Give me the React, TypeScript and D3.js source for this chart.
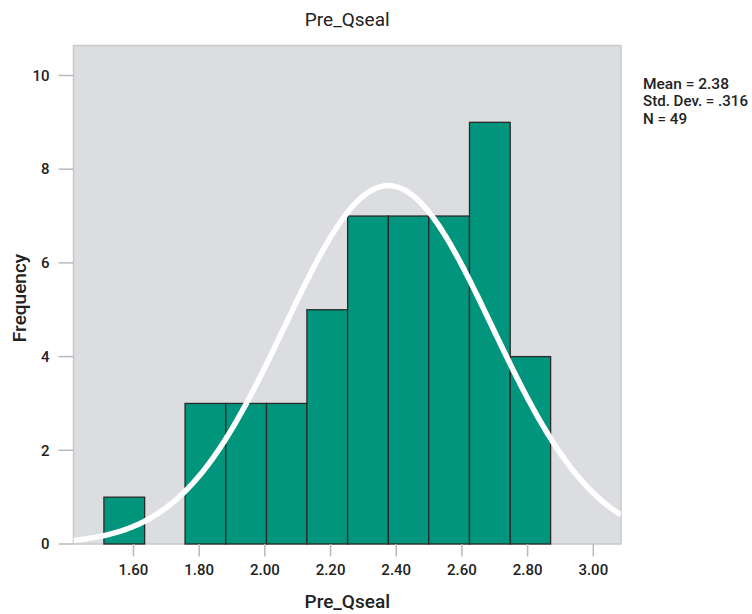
import React from "react";
import * as d3 from "d3";

// Histogram of Pre_Qseal with a fitted normal curve
const binEdges = [1.51, 1.634, 1.757, 1.881, 2.005, 2.128, 2.252, 2.376, 2.499, 2.623, 2.747, 2.87];
const frequencies = [1, 0, 3, 3, 3, 5, 7, 7, 7, 9, 4];
const xTicks = [1.6, 1.8, 2.0, 2.2, 2.4, 2.6, 2.8, 3.0];
const yTicks = [0, 2, 4, 6, 8, 10];
const mean = 2.376;
const sd = 0.316;
const n = 49;
const statsLines = ["Mean = 2.38", "Std. Dev. = .316", "N = 49"];

const W = 752;
const H = 614;
const left = 73.5;
const right = 621;
const top = 45.5;
const bottom = 544;
const font = "Roboto, 'Noto Sans', sans-serif";
const statsWidths = [86, 105, 44];

export default function App() {
  const x = d3.scaleLinear().domain([1.4174, 3.0843]).range([left, right]);
  const y = d3.scaleLinear().domain([0, 10.64]).range([bottom, top]);

  const binWidth = (binEdges[binEdges.length - 1] - binEdges[0]) / frequencies.length;
  const normal = (v: number) =>
    (n * binWidth) / (sd * Math.sqrt(2 * Math.PI)) * Math.exp(-0.5 * ((v - mean) / sd) ** 2);
  const curvePts = d3.range(0, 301).map((i) => {
    const v = 1.4174 + (i / 300) * (3.0843 - 1.4174);
    return [v, normal(v)] as [number, number];
  });
  const line = d3
    .line<[number, number]>()
    .x((d) => x(d[0]))
    .y((d) => y(d[1]))
    .curve(d3.curveBasis);

  return (
    <svg width={W} height={H} style={{ position: "absolute", left: 0, top: 0, background: "#fff" }}>
      <defs>
        <clipPath id="plotClip">
          <rect x={left} y={top} width={right - left} height={bottom - top} />
        </clipPath>
      </defs>
      <text x={(left + right) / 2} y={25.5} textAnchor="middle" fontFamily={font} fontSize={19} fill="#222">
        Pre_Qseal
      </text>
      <rect x={left} y={top} width={right - left} height={bottom - top} fill="#dcdde0" stroke="#c8c9cb" strokeWidth={1.5} />
      <g>
        {frequencies.map((f, i) =>
          f > 0 ? (
            <rect
              key={i}
              x={x(binEdges[i])}
              y={y(f)}
              width={x(binEdges[i + 1]) - x(binEdges[i])}
              height={y(0) - y(f)}
              fill="#00957c"
              stroke="#2a2a2a"
              strokeWidth={1.3}
            />
          ) : null
        )}
      </g>
      <path d={line(curvePts) || ""} fill="none" stroke="#ffffff" strokeWidth={5.5} clipPath="url(#plotClip)" />
      {yTicks.map((t) => (
        <g key={t}>
          <line x1={left - 15} x2={left} y1={y(t)} y2={y(t)} stroke="#b8b9bc" strokeWidth={1.5} />
          <text x={left - 24} y={y(t)} dy="0.35em" textAnchor="end" fontFamily={font} fontSize={15} fontWeight={500} fill="#222">
            {t}
          </text>
        </g>
      ))}
      {xTicks.map((t) => (
        <g key={t}>
          <line x1={x(t)} x2={x(t)} y1={bottom} y2={bottom + 12.5} stroke="#b8b9bc" strokeWidth={1.5} />
          <text x={x(t)} y={bottom + 31} textAnchor="middle" fontFamily={font} fontSize={15} fontWeight={500} fill="#222">
            {t.toFixed(2)}
          </text>
        </g>
      ))}
      <text x={(left + right) / 2} y={608} textAnchor="middle" fontFamily={font} fontSize={19} fontWeight={500} fill="#222">
        Pre_Qseal
      </text>
      <text
        transform={`translate(25.5,298) rotate(-90)`}
        textAnchor="middle"
        fontFamily={font}
        fontSize={19}
        fontWeight={500}
        fill="#222"
      >
        Frequency
      </text>
      {statsLines.map((s, i) => (
        <text
          key={i}
          x={643}
          y={88.5 + i * 17.8}
          fontFamily={font}
          fontSize={15}
          fontWeight={500}
          fill="#222"
          textLength={statsWidths[i]}
          lengthAdjust="spacingAndGlyphs"
        >
          {s}
        </text>
      ))}
    </svg>
  );
}
